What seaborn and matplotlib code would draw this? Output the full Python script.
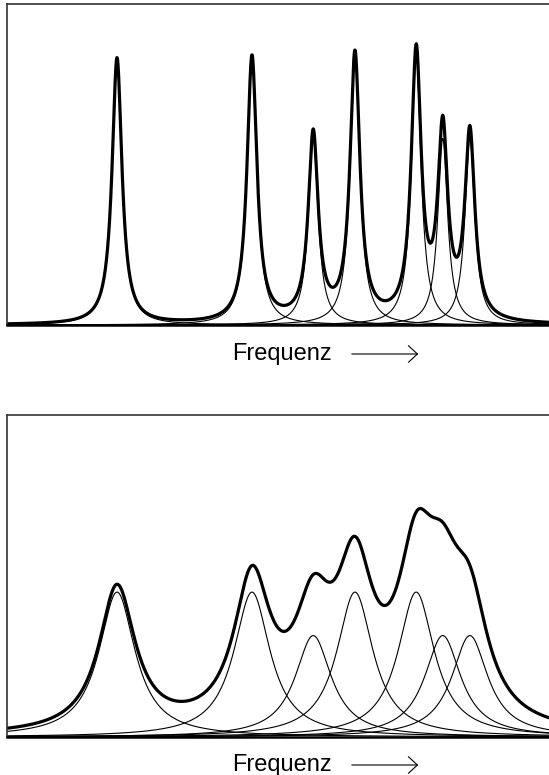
import numpy as np
import pandas as pd
import matplotlib
matplotlib.use('Agg')
import matplotlib.pyplot as plt
import seaborn as sns

# Line positions (frequency, 0..100 across the box) and relative strengths
peak_pos = [20.3, 45.2, 56.5, 64.2, 75.5, 80.4, 85.4]
rel_intensity = [1.0, 1.0, 0.7, 1.0, 1.0, 0.7, 0.7]

# Per panel: peak height (fraction of box) and Lorentz half width
top_height = 0.83
top_halfwidth = 1.1
bottom_height = 0.45
bottom_halfwidth = 4.06

axis_label = 'Frequenz'

sns.set_style('white')
plt.rcParams['font.family'] = ['Liberation Sans', 'DejaVu Sans']

W, H = 549, 775
fig = plt.figure(figsize=(W / 100, H / 100), dpi=100, facecolor='white')


def add_box(left, top, right, bottom):
    return fig.add_axes([left / W, 1 - bottom / H, (right - left) / W, (bottom - top) / H])


def spectrum_frame(height, halfwidth):
    freq = np.linspace(0, 100, 1500)
    rows = []
    for i, (pos, rel) in enumerate(zip(peak_pos, rel_intensity)):
        amp = height * rel
        y = amp / (1 + ((freq - pos) / halfwidth) ** 2)
        rows.append(pd.DataFrame({'freq': freq, 'intensity': y, 'line': i}))
    lines = pd.concat(rows, ignore_index=True)
    total = lines.groupby('freq', as_index=False)['intensity'].sum()
    return lines, total


def draw_panel(ax, height, halfwidth, label_y):
    lines, total = spectrum_frame(height, halfwidth)
    sns.lineplot(data=lines, x='freq', y='intensity', units='line', estimator=None,
                 color='black', lw=0.8, ax=ax, legend=False)
    sns.lineplot(data=total, x='freq', y='intensity', estimator=None,
                 color='black', lw=2.3, ax=ax, legend=False)
    ax.set_xlim(0, 100)
    ax.set_ylim(0, 1)
    ax.set_xticks([])
    ax.set_yticks([])
    ax.set_xlabel('')
    ax.set_ylabel('')
    ax.spines['right'].set_visible(False)
    for side in ['top', 'left']:
        ax.spines[side].set_color('#333333')
        ax.spines[side].set_linewidth(1.2)
    ax.spines['bottom'].set_color('black')
    ax.spines['bottom'].set_linewidth(1.8)

    # "Frequenz --->" below the box
    fig.text(281.5 / W, 1 - label_y / H, axis_label, ha='center', va='baseline',
             fontsize=17, color='black')
    arrow_y = 1 - (label_y - 6) / H
    fig.add_artist(matplotlib.patches.FancyArrowPatch(
        (349 / W, arrow_y), (421 / W, arrow_y), transform=fig.transFigure,
        arrowstyle='->,head_length=0.65,head_width=0.6', mutation_scale=10,
        lw=0.8, color='black'))


ax_top = add_box(7, 4, 549, 325)
draw_panel(ax_top, top_height, top_halfwidth, 360)

ax_bottom = add_box(7, 415, 549, 737)
draw_panel(ax_bottom, bottom_height, bottom_halfwidth, 771)

fig.savefig('out.png', dpi=100, facecolor='white')
